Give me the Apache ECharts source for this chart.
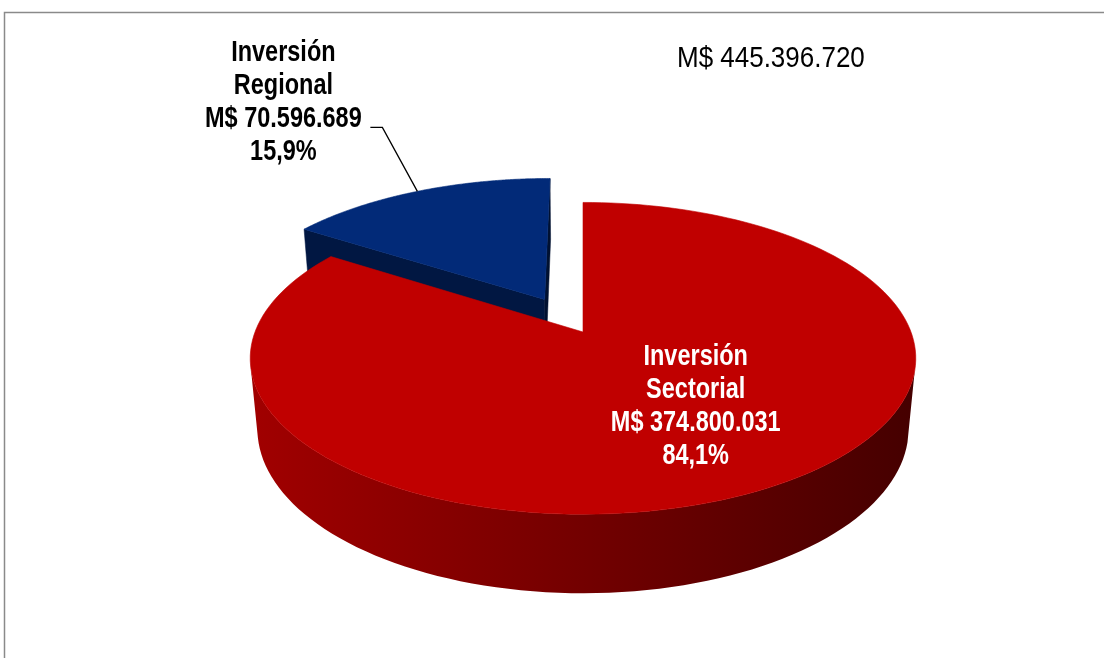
<!DOCTYPE html>
<html>
<head>
<meta charset="utf-8">
<script src="https://cdn.jsdelivr.net/npm/echarts@6/dist/echarts.min.js"></script>
<style>
  html, body { margin: 0; padding: 0; background: #fff; }
  #chart { width: 1104px; height: 658px; }
</style>
</head>
<body>
<div id="chart"></div>
<script>
// datos
const categories = ['Inversión Sectorial', 'Inversión Regional'];
const values = [374800031, 70596689];
const sliceColors = ['#c00000', '#022a78'];
const explodeBy = [0, 0.254]; // fraction of radius

// no narrow font available: squeeze Liberation Sans horizontally
const FONT = "'Liberation Sans Narrow', 'Arial Narrow', 'Liberation Sans', sans-serif";
const NARROW = 0.81;

const total = values.reduce((a, b) => a + b, 0);
const fmtMiles = (n) => String(n).replace(/\B(?=(\d{3})+(?!\d))/g, '.');
const fmtPct = (v) => (v / total * 100).toFixed(1).replace('.', ',') + '%';

// simple perspective view of the disk (units of radius)
const CX = 583, CY = 332, K = 328;
const TILT = 27.5 * Math.PI / 180;
const DIST = 5.25;
const DEPTH = 0.245;
const cT = Math.cos(TILT), sT = Math.sin(TILT);

function proj(x, y, z) {
  const yp = y * cT + z * sT;
  const zp = -y * sT + z * cT;
  const f = DIST / (DIST + zp);
  return [CX + f * K * x, CY - f * K * yp];
}
const cam = [0, DIST * sT, -DIST * cT];

function shade(hex, k) {
  const n = parseInt(hex.slice(1), 16);
  const r = Math.round(((n >> 16) & 255) * k);
  const g = Math.round(((n >> 8) & 255) * k);
  const b = Math.round((n & 255) * k);
  return 'rgb(' + r + ',' + g + ',' + b + ')';
}

// angles, clockwise from the back (top of screen)
const angles = [];
let acc = 0;
values.forEach((v) => {
  const a0 = acc / total * Math.PI * 2;
  acc += v;
  const a1 = acc / total * Math.PI * 2;
  angles.push([a0, a1]);
});
const offsets = angles.map(([a0, a1], i) => {
  const m = (a0 + a1) / 2;
  return [explodeBy[i] * Math.sin(m), explodeBy[i] * Math.cos(m)];
});
// paint farther slices first
const depthRank = (() => {
  const d = angles.map(([a0, a1], i) => offsets[i][1] + 0.5 * Math.cos((a0 + a1) / 2));
  const idx = d.map((_, i) => i).sort((a, b) => d[b] - d[a]);
  const r = [];
  idx.forEach((k, pos) => { r[k] = pos; });
  return r;
})();

function renderSlice(params, api) {
  const i = params.dataIndex;
  const v = api.value(0);
  const [a0, a1] = angles[i];
  const [ox, oz] = offsets[i];
  const base = depthRank[i] * 10;
  const col = sliceColors[i];
  const rim = (t, y) => proj(ox + Math.sin(t), y, oz + Math.cos(t));
  const apex = (y) => proj(ox, y, oz);
  const children = [];
  const N = 160;

  // radial faces
  const faces = [
    [a0, [-Math.cos(a0), Math.sin(a0)]],
    [a1, [Math.cos(a1), -Math.sin(a1)]]
  ];
  faces.forEach(([t, n], k) => {
    const dot = (cam[0] - ox) * n[0] + (cam[2] - oz) * n[1];
    if (dot > 0.01) {
      const c = shade(col, k === 0 ? 0.55 : 0.4);
      children.push({
        type: 'polygon',
        z2: base + 1,
        shape: { points: [apex(0), rim(t, 0), rim(t, -DEPTH), apex(-DEPTH)] },
        style: { fill: c, stroke: c, lineWidth: 0.5 }
      });
    }
  });

  // outer side, only where it faces the camera
  const vis = [];
  for (let s = 0; s <= N; s++) {
    const t = a0 + (a1 - a0) * s / N;
    const px = ox + Math.sin(t), pz = oz + Math.cos(t);
    const dot = (cam[0] - px) * Math.sin(t) + (cam[2] - pz) * Math.cos(t);
    if (dot > 0) vis.push(t);
  }
  if (vis.length > 1) {
    const topArc = vis.map((t) => rim(t, 0));
    const botArc = vis.slice().reverse().map((t) => rim(t, -DEPTH));
    children.push({
      type: 'polygon',
      z2: base + 2,
      shape: { points: topArc.concat(botArc) },
      style: {
        fill: new echarts.graphic.LinearGradient(0, 0, 1, 0, [
          { offset: 0, color: shade(col, 0.84) },
          { offset: 0.5, color: shade(col, 0.6) },
          { offset: 1, color: shade(col, 0.36) }
        ]),
        stroke: null
      }
    });
  }

  // top face
  const topPts = [apex(0)];
  for (let s = 0; s <= N; s++) topPts.push(rim(a0 + (a1 - a0) * s / N, 0));
  children.push({
    type: 'polygon',
    z2: base + 5,
    shape: { points: topPts },
    style: { fill: col, stroke: col, lineWidth: 0.6 }
  });

  // label
  const m = (a0 + a1) / 2;
  const words = categories[i].split(' ');
  const text = words.join('\n') + '\nM$ ' + fmtMiles(v) + '\n' + fmtPct(v);
  if (v / total < 0.25) {
    const anc = rim(m, 0);
    const elbow = [anc[0] - 35, anc[1] - 64];
    children.push({
      type: 'polyline',
      z2: 100,
      shape: { points: [anc, elbow, [elbow[0] - 12, elbow[1]]] },
      style: { stroke: '#000', lineWidth: 1.3, fill: null }
    });
    children.push({
      type: 'text',
      z2: 101,
      x: anc[0] - 134,
      y: elbow[1] - 90.5,
      scaleX: NARROW,
      style: {
        text: text, fill: '#000', fontFamily: FONT, fontWeight: 'bold', fontSize: 29,
        lineHeight: 33, align: 'center', verticalAlign: 'top'
      }
    });
  } else {
    const p = proj(ox + 0.65 * Math.sin(m), 0, oz + 0.65 * Math.cos(m));
    children.push({
      type: 'text',
      z2: 101,
      x: p[0],
      y: p[1] - 21,
      scaleX: NARROW,
      style: {
        text: text, fill: '#fff', fontFamily: FONT, fontWeight: 'bold', fontSize: 29,
        lineHeight: 33, align: 'center', verticalAlign: 'middle'
      }
    });
  }

  return { type: 'group', children: children };
}

const chart = echarts.init(document.getElementById('chart'), null, { renderer: 'canvas' });
chart.setOption({
  animation: false,
  backgroundColor: '#fff',
  graphic: [{
    type: 'rect',
    shape: { x: 4.5, y: 12.5, width: 1300, height: 900 },
    style: { fill: null, stroke: '#8a8a8a', lineWidth: 1.5 },
    silent: true
  }, {
    type: 'text',
    x: 677,
    y: 59,
    scaleX: 0.866,
    style: {
      text: 'M$ ' + fmtMiles(total),
      fill: '#000', fontFamily: FONT, fontSize: 30,
      align: 'left', verticalAlign: 'middle'
    },
    silent: true
  }],
  series: [{
    type: 'custom',
    coordinateSystem: 'none',
    silent: true,
    renderItem: renderSlice,
    data: values.map((v, i) => ({ name: categories[i], value: [v] }))
  }]
});
</script>
</body>
</html>
